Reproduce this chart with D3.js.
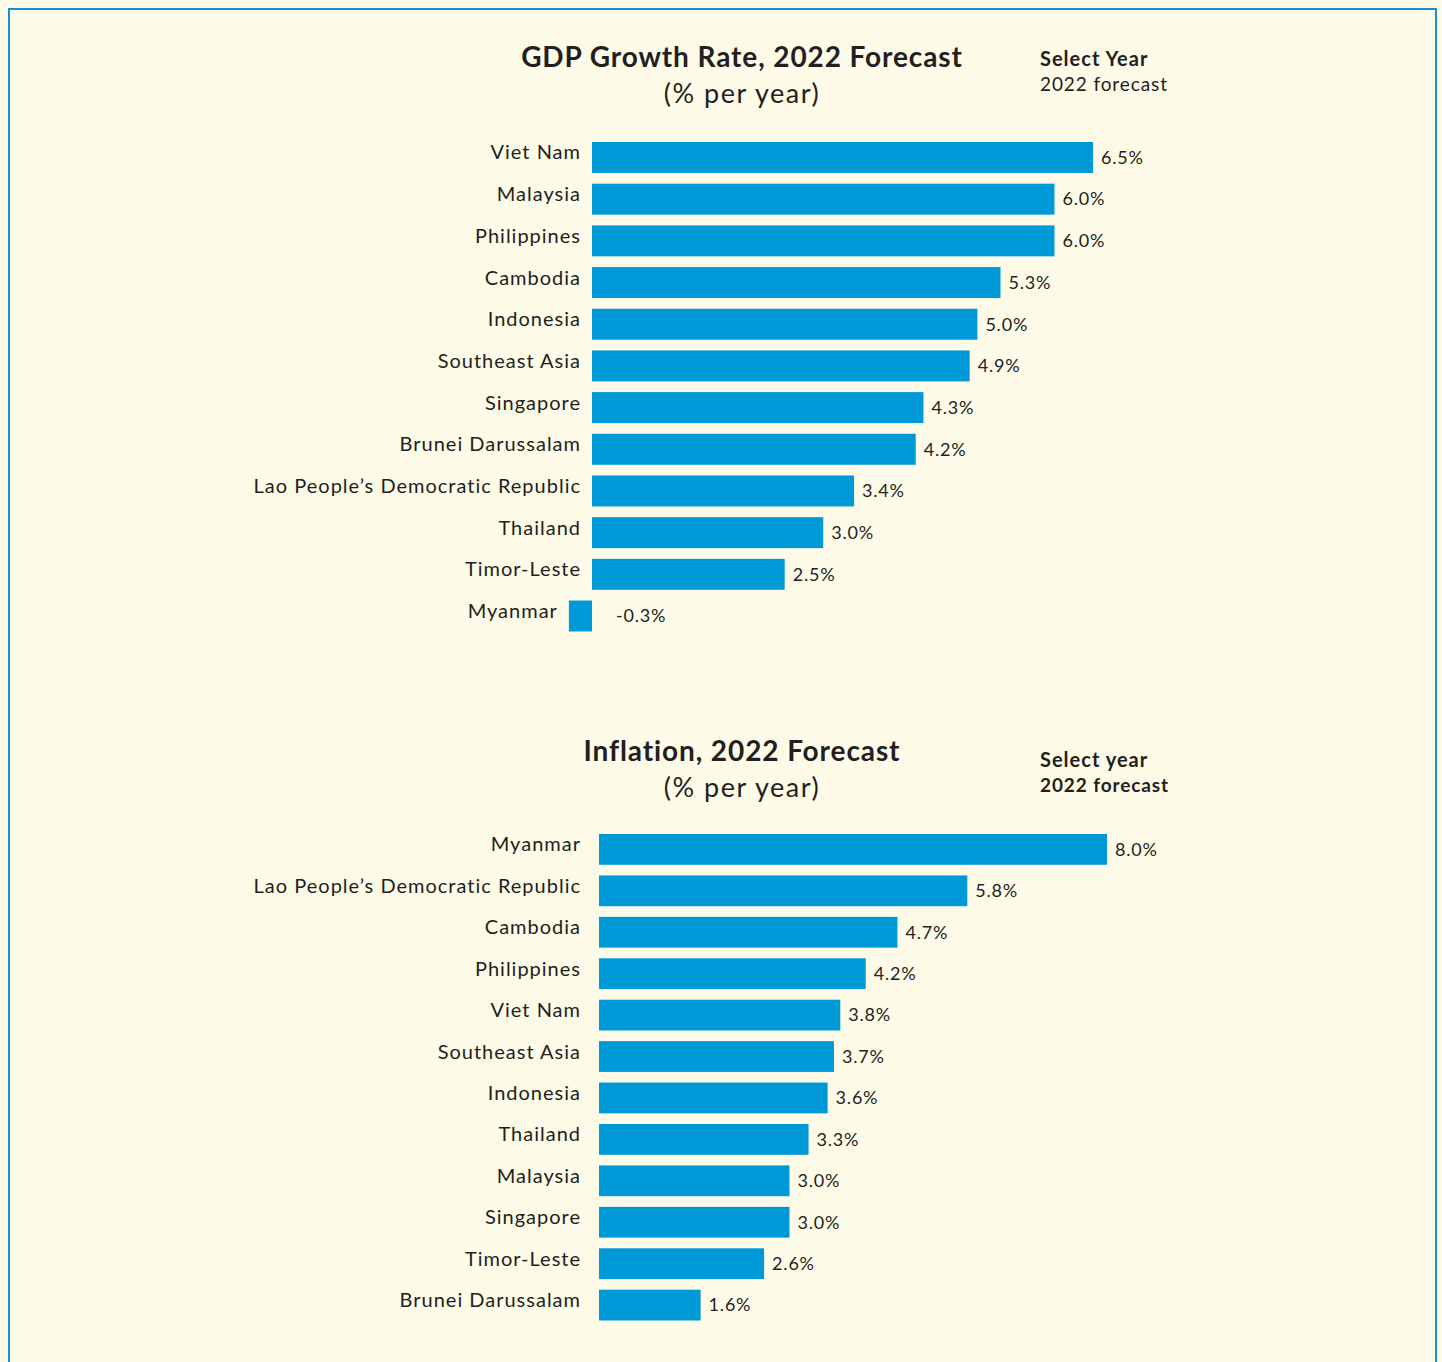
<!DOCTYPE html>
<html>
<head>
<meta charset="utf-8">
<script src="https://cdn.jsdelivr.net/npm/d3@7"></script>
<style>
body { margin: 0; background: #fdfae8; }
text { font-family: Lato, "Open Sans", sans-serif; fill: #231f20; }
</style>
</head>
<body>
<svg id="svg"></svg>
<script>
var width = 1442, height = 1362;

// GDP growth, 2022 forecast (% per year)
var gdpCountries = ["Viet Nam", "Malaysia", "Philippines", "Cambodia", "Indonesia", "Southeast Asia",
	"Singapore", "Brunei Darussalam", "Lao People\u2019s Democratic Republic", "Thailand", "Timor-Leste", "Myanmar"];
var gdpValues = [6.5, 6.0, 6.0, 5.3, 5.0, 4.9, 4.3, 4.2, 3.4, 3.0, 2.5, -0.3];

// Inflation, 2022 forecast (% per year)
var infCountries = ["Myanmar", "Lao People\u2019s Democratic Republic", "Cambodia", "Philippines", "Viet Nam",
	"Southeast Asia", "Indonesia", "Thailand", "Malaysia", "Singapore", "Timor-Leste", "Brunei Darussalam"];
var infValues = [8.0, 5.8, 4.7, 4.2, 3.8, 3.7, 3.6, 3.3, 3.0, 3.0, 2.6, 1.6];

var svg = d3.select("#svg")
	.attr("width", width)
	.attr("height", height);

svg.append("rect")
	.attr("width", width).attr("height", height)
	.attr("fill", "#fdfae8");

svg.append("rect")
	.attr("x", 9).attr("y", 9)
	.attr("width", 1427).attr("height", 1420)
	.attr("fill", "none")
	.attr("stroke", "#1b8fca")
	.attr("stroke-width", 2);

function chart(o)
{
	var g = svg.append("g");

	g.append("text")
		.attr("x", 742).attr("y", o.titleY)
		.attr("text-anchor", "middle")
		.attr("font-size", "28px").attr("font-weight", "bold")
		.attr("letter-spacing", "0.9px")
		.text(o.title);
	g.append("text")
		.attr("x", 742).attr("y", o.titleY + 36)
		.attr("text-anchor", "middle")
		.attr("font-size", "27px")
		.attr("letter-spacing", "1.5px")
		.text("(% per year)");
	g.append("text")
		.attr("x", 1040).attr("y", o.selY)
		.attr("font-size", "20px").attr("font-weight", "bold")
		.attr("letter-spacing", "1px")
		.text(o.select);
	g.append("text")
		.attr("x", 1040).attr("y", o.selY + 25)
		.attr("font-size", "19px").attr("font-weight", o.subBold ? "bold" : "normal")
		.attr("letter-spacing", "0.9px")
		.text("2022 forecast");

	var x = d3.scaleLinear().domain([0, o.max]).range([o.x0, o.x1]);
	var y = d3.scaleBand()
		.domain(o.cats)
		.range([o.y0, o.y1])
		.paddingInner(0.257)
		.paddingOuter(0);

	var rows = g.selectAll(".row")
		.data(o.vals)
		.enter().append("g")
		.attr("class", "row");

	rows.append("rect")
		.attr("x", function(d) { return x(Math.min(0, d)); })
		.attr("y", function(d, i) { return y(o.cats[i]); })
		.attr("width", function(d) { return Math.abs(x(d) - x(0)); })
		.attr("height", y.bandwidth())
		.attr("fill", "#0099d8");

	rows.append("text")
		.attr("x", function(d) { return Math.min(o.labelX, x(Math.min(0, d)) - 12) + 1; })
		.attr("y", function(d, i) { return y(o.cats[i]) + y.bandwidth() / 2 - 5; })
		.attr("dy", "0.35em")
		.attr("text-anchor", "end")
		.attr("font-size", "20px")
		.attr("letter-spacing", "1px")
		.text(function(d, i) { return o.cats[i]; });

	rows.append("text")
		.attr("x", function(d) { return d < 0 ? x(0) + 24 : x(d) + 8; })
		.attr("y", function(d, i) { return y(o.cats[i]) + y.bandwidth() / 2; })
		.attr("dy", "0.35em")
		.attr("font-size", "18px")
		.attr("letter-spacing", "0.8px")
		.text(function(d) { return d.toFixed(1) + "%"; });
}

chart({
	title: "GDP Growth Rate, 2022 Forecast", titleY: 67, select: "Select Year", selY: 66, subBold: false,
	cats: gdpCountries, vals: gdpValues, max: 6.5, x0: 592, x1: 1093, y0: 142, y1: 631.5, labelX: 580
});

chart({
	title: "Inflation, 2022 Forecast", titleY: 761, select: "Select year", selY: 767, subBold: true,
	cats: infCountries, vals: infValues, max: 8.0, x0: 599, x1: 1107, y0: 834, y1: 1320.5, labelX: 580
});
</script>
</body>
</html>
